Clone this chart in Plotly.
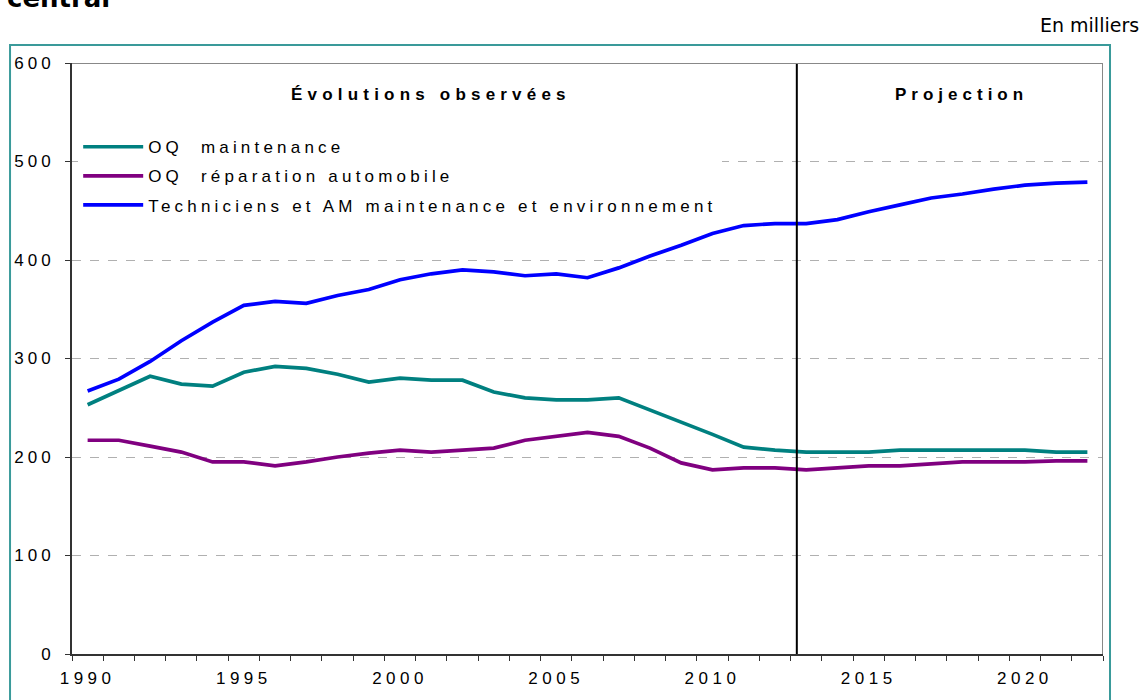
import plotly.graph_objects as go

# annees observees + projection
annees = list(range(1990, 2023))

oq_maintenance = [253, 268, 282, 274, 272, 286, 292, 290, 284, 276, 280, 278, 278,
                  266, 260, 258, 258, 260, 248, 235, 223, 210, 207,
                  205, 205, 205, 207, 207, 207, 207, 207, 205, 205]

oq_reparation = [217, 217, 211, 205, 195, 195, 191, 195, 200, 204, 207, 205, 207,
                 209, 217, 221, 225, 221, 209, 194, 187, 189, 189,
                 187, 189, 191, 191, 193, 195, 195, 195, 196, 196]

techniciens = [267, 279, 297, 318, 337, 354, 358, 356, 364, 370, 380, 386, 390,
               388, 384, 386, 382, 392, 404, 415, 427, 435, 437,
               437, 441, 449, 456, 463, 467, 472, 476, 478, 479]

noms = ["OQ  maintenance", "OQ  réparation automobile",
        "Techniciens et AM maintenance et environnement"]
couleurs = ["#008080", "#800080", "#0000ff"]

annees_ticks = [1990, 1995, 2000, 2005, 2010, 2015, 2020]
annee_rupture = 2012.7


def espace(txt, px=4.2):
	return "<span style='letter-spacing:%spx'>%s</span>" % (px, txt)


fig = go.Figure()
for i, serie in enumerate([oq_maintenance, oq_reparation, techniciens]):
	fig.add_trace(go.Scatter(x=annees, y=serie, mode="lines", name=espace(noms[i]),
		line=dict(color=couleurs[i], width=3.7), legendgroup=str(i)))

fig.add_shape(type="line", x0=annee_rupture, x1=annee_rupture, y0=0, y1=600,
	line=dict(color="black", width=2))
# bord haut / droit gris
fig.add_shape(type="line", x0=1989.5, x1=2022.5, y0=600, y1=600, line=dict(color="#888888", width=2))
fig.add_shape(type="line", x0=2022.5, x1=2022.5, y0=0, y1=600, line=dict(color="#888888", width=2))
# cadre exterieur
fig.add_shape(type="rect", xref="paper", yref="paper", x0=-0.0601, x1=1.0068, y0=-0.2, y1=1.0303,
	line=dict(color="#3a9a9a", width=2), layer="below")

fig.add_annotation(text="<b>" + espace("Évolutions observées", 5.2) + "</b>", xref="paper", yref="paper",
	x=0.348, y=0.946, xanchor="center", yanchor="middle", showarrow=False,
	font=dict(size=17, color="black"))
fig.add_annotation(text="<b>" + espace("Projection", 5) + "</b>", xref="paper", yref="paper",
	x=0.863, y=0.946, xanchor="center", yanchor="middle", showarrow=False,
	font=dict(size=17, color="black"))
fig.add_annotation(text="En milliers", xref="paper", yref="paper", x=1.037, y=1.064,
	xanchor="right", yanchor="middle", showarrow=False,
	font=dict(family="DejaVu Sans", size=19, color="black"))
fig.add_annotation(text="<b>central</b>", xref="paper", yref="paper", x=-0.065, y=1.0807,
	xanchor="left", yanchor="bottom", showarrow=False,
	font=dict(family="DejaVu Sans", size=26, color="black"))

fig.update_layout(
	width=1142, height=700,
	margin=dict(l=72, r=39, t=63, b=42),
	paper_bgcolor="white", plot_bgcolor="white",
	font=dict(family="Liberation Sans, Arial", size=17, color="black"),
	showlegend=True,
	legend=dict(x=0.006, y=0.888, xanchor="left", yanchor="top", bgcolor="white",
		traceorder="grouped", tracegroupgap=4, itemwidth=60,
		font=dict(size=17, color="black")),
)
fig.update_xaxes(range=[1989.5, 2022.5], tickvals=annees_ticks,
	ticktext=[espace(str(a), 4.5) for a in annees_ticks], ticks="",
	minor=dict(tick0=1989.5, dtick=1, ticks="outside", ticklen=5, tickcolor="#333333"),
	showline=True, linecolor="#333333", linewidth=2, showgrid=False, zeroline=False,
	ticklabelstandoff=8, tickfont=dict(size=17))
fig.update_yaxes(range=[0, 600], dtick=100, ticks="outside", ticklen=5, tickcolor="#333333",
	ticktext=[espace(str(v), 4) for v in range(0, 700, 100)], tickvals=list(range(0, 700, 100)),
	showline=True, linecolor="#333333", linewidth=2, showgrid=True, gridcolor="#b0b0b0",
	griddash="dash", zeroline=False, ticklabelstandoff=7, tickfont=dict(size=17))

# pas de marge de page autour du graphique, pas de barre d'outils
fig.write_html("out.html", config={"displayModeBar": False},
	post_script="document.body.style.margin='0';")
